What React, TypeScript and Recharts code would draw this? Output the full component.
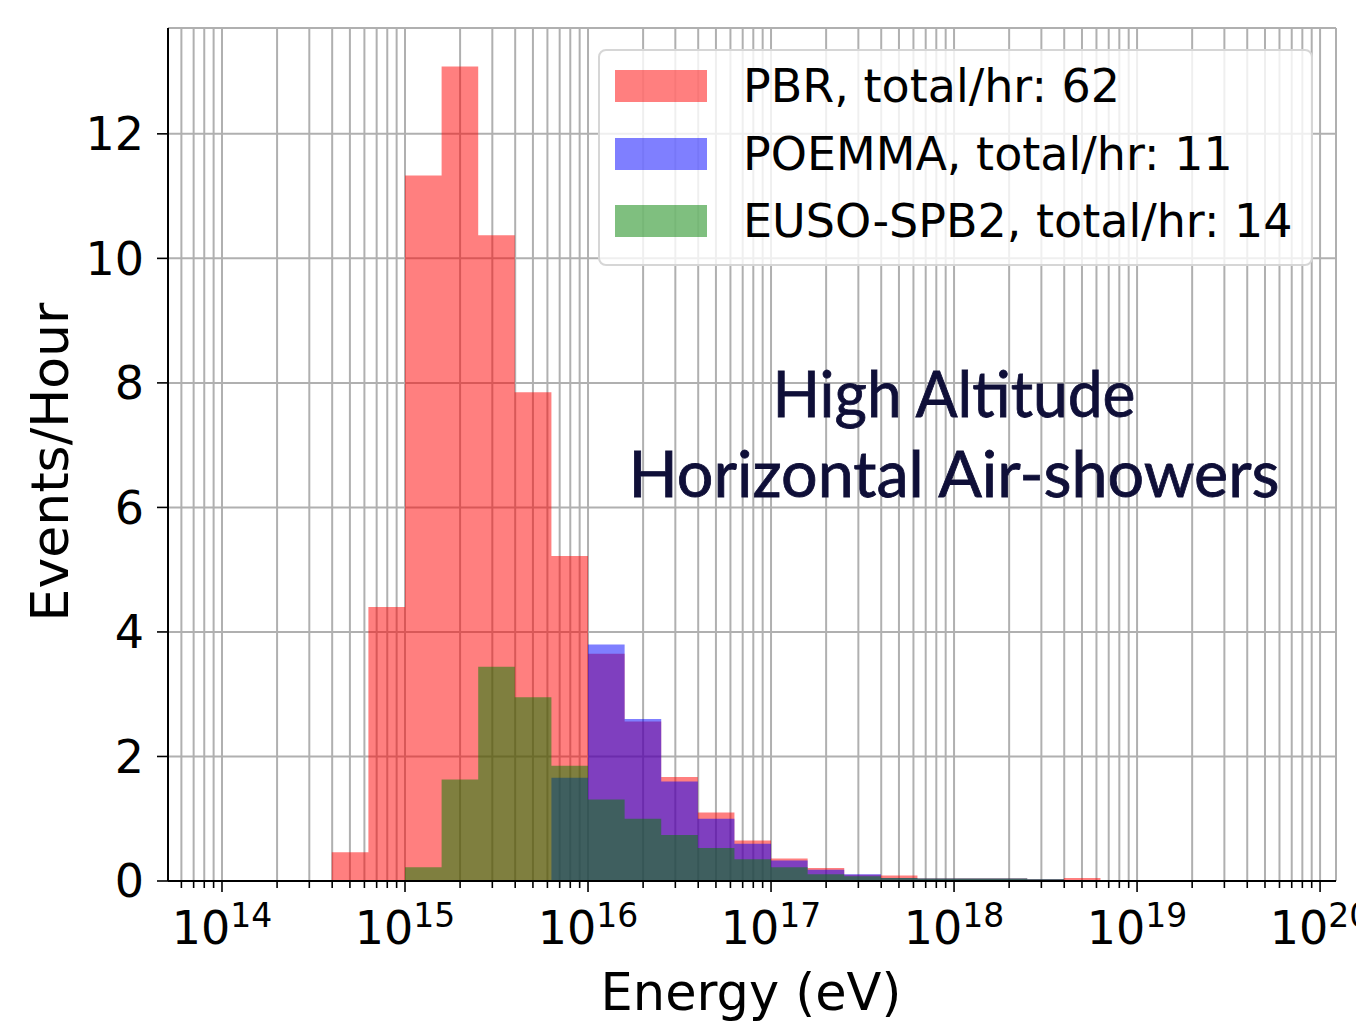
import React from "react";
import {
  ComposedChart,
  Area,
  XAxis,
  YAxis,
  CartesianGrid,
  Legend,
} from "recharts";

// left bin edges in log10(E / eV), bins are 0.2 decades wide (last entry closes the last bin)
const binEdges = [
  14.6, 14.8, 15.0, 15.2, 15.4, 15.6, 15.8, 16.0, 16.2, 16.4, 16.6, 16.8,
  17.0, 17.2, 17.4, 17.6, 17.8, 18.0, 18.2, 18.4, 18.6, 18.8,
];

// events / hour per bin
const pbr = [
  0.46, 4.4, 11.33, 13.08, 10.37, 7.85, 5.22, 3.65, 2.56, 1.67, 1.1, 0.65,
  0.36, 0.21, 0.1, 0.09, 0.04, 0.04, 0.04, 0.03, 0.05,
];
const poemma = [
  0, 0, 0, 0, 0, 0, 1.66, 3.8, 2.6, 1.6, 1.0, 0.6, 0.33, 0.18, 0.11, 0.05,
  0.04, 0.04, 0.04, 0.03, 0,
];
const eusoSpb2 = [
  0, 0, 0.22, 1.63, 3.44, 2.95, 1.85, 1.31, 1.0, 0.74, 0.53, 0.35, 0.22, 0.11,
  0.075, 0.05, 0.04, 0.04, 0.04, 0.03, 0,
];

const decades = [14, 15, 16, 17, 18, 19, 20];
const yTicks = [0, 2, 4, 6, 8, 10, 12];

const SERIES = [
  { key: "pbr", name: "PBR, total/hr: 62", color: "#ff0000" },
  { key: "poemma", name: "POEMMA, total/hr: 11", color: "#0000ff" },
  { key: "euso", name: "EUSO-SPB2, total/hr: 14", color: "#008000" },
];

const X_DOMAIN = [13.705, 20.087];
const FONT = "'DejaVu Sans', sans-serif";
const NAVY = "#0f0f38";

const data = binEdges.map((e, i) => ({
  e,
  pbr: pbr[i] ?? 0,
  poemma: poemma[i] ?? 0,
  euso: eusoSpb2[i] ?? 0,
}));

// major + minor log ticks inside the visible range
const xTicks: number[] = [];
for (let n = 13; n <= 20; n++) {
  for (let k = 1; k <= 9; k++) {
    const v = n + Math.log10(k);
    if (v >= X_DOMAIN[0] && v <= X_DOMAIN[1]) xTicks.push(v);
  }
}

function XTick(props: any) {
  const { x, y, payload } = props;
  const v = payload.value;
  const major = Math.abs(v - Math.round(v)) < 1e-6;
  return (
    <g>
      <line
        x1={x}
        x2={x}
        y1={y}
        y2={y + (major ? 11 : 7)}
        stroke="#000"
        strokeWidth={1.6}
      />
      {major && decades.includes(Math.round(v)) && (
        <text
          x={x}
          y={y + 63}
          textAnchor="middle"
          fontSize={46}
          fontFamily={FONT}
          fill="#000"
        >
          10
          <tspan dy={-17} fontSize={33}>
            {Math.round(v)}
          </tspan>
        </text>
      )}
    </g>
  );
}

const renderLegend = () => (
  <div
    style={{
      boxSizing: "border-box",
      width: 715,
      height: 217,
      border: "2px solid #d6d6d6",
      borderRadius: 8,
      background: "rgba(255,255,255,0.8)",
      position: "relative",
    }}
  >
    {SERIES.map((s, i) => (
      <div
        key={s.key}
        style={{
          position: "absolute",
          left: 15,
          top: 19 + i * 67.5,
          height: 32,
          display: "flex",
          alignItems: "center",
        }}
      >
        <span
          style={{
            display: "inline-block",
            width: 92,
            height: 32,
            background: s.color,
            opacity: 0.5,
          }}
        />
        <span
          style={{
            marginLeft: 36,
            fontSize: 46,
            fontFamily: FONT,
            lineHeight: "32px",
            color: "#000",
            whiteSpace: "nowrap",
          }}
        >
          {s.name}
        </span>
      </div>
    ))}
  </div>
);

export default function App() {
  return (
    <div
      style={{
        position: "absolute",
        left: 0,
        top: 0,
        width: 1356,
        height: 1030,
        background: "#fff",
        overflow: "hidden",
      }}
    >
      <ComposedChart
        width={1356}
        height={1030}
        data={data}
        margin={{ top: 28, right: 20, left: 0, bottom: 0 }}
      >
        <XAxis
          dataKey="e"
          type="number"
          domain={X_DOMAIN}
          allowDataOverflow
          ticks={xTicks}
          interval={0}
          tick={XTick}
          tickLine={false}
          tickSize={0}
          tickMargin={0}
          height={149}
          axisLine={{ stroke: "#000", strokeWidth: 2 }}
        />
        <XAxis
          xAxisId="top"
          orientation="top"
          type="number"
          domain={X_DOMAIN}
          height={0}
          tick={false}
          tickLine={false}
          axisLine={{ stroke: "#000", strokeWidth: 2 }}
        />
        <YAxis
          type="number"
          domain={[0, 13.7]}
          allowDataOverflow
          ticks={yTicks}
          interval={0}
          width={168}
          tickSize={11}
          tickMargin={13}
          tick={{ fill: "#000", fontSize: 46, fontFamily: FONT }}
          tickLine={{ stroke: "#000", strokeWidth: 1.6 }}
          axisLine={{ stroke: "#000", strokeWidth: 2 }}
        />
        <YAxis
          yAxisId="right"
          orientation="right"
          type="number"
          domain={[0, 1]}
          width={0}
          tick={false}
          tickLine={false}
          axisLine={{ stroke: "#000", strokeWidth: 2 }}
        />

        {SERIES.map((s) => (
          <Area
            key={s.key}
            type="stepAfter"
            dataKey={s.key}
            name={s.name}
            fill={s.color}
            fillOpacity={0.5}
            stroke="none"
            dot={false}
            activeDot={false}
            isAnimationActive={false}
          />
        ))}

        <CartesianGrid stroke="#b0b0b0" strokeWidth={2} />

        <Legend
          layout="vertical"
          align="center"
          verticalAlign="middle"
          content={renderLegend}
          wrapperStyle={{ left: 598, top: 49, width: 715, height: 217 }}
        />
      </ComposedChart>

      {/* axis titles and the annotation */}
      <svg
        width={1356}
        height={1030}
        style={{ position: "absolute", left: 0, top: 0, pointerEvents: "none" }}
      >
        <text
          x={751}
          y={1010}
          textAnchor="middle"
          fontSize={51}
          fontFamily={FONT}
          fill="#000"
        >
          Energy (eV)
        </text>
        <text
          transform="translate(68,462) rotate(-90)"
          textAnchor="middle"
          fontSize={52}
          fontFamily={FONT}
          fill="#000"
        >
          Events/Hour
        </text>
        <text
          x={954}
          y={417}
          textAnchor="middle"
          fontSize={64}
          fontFamily="Lato, sans-serif"
          fill={NAVY}
          stroke={NAVY}
          strokeWidth={0.8}
          textLength={363}
          lengthAdjust="spacingAndGlyphs"
        >
          High Altitude
        </text>
        <text
          x={954}
          y={497}
          textAnchor="middle"
          fontSize={64}
          fontFamily="Lato, sans-serif"
          fill={NAVY}
          stroke={NAVY}
          strokeWidth={0.8}
          textLength={651}
          lengthAdjust="spacingAndGlyphs"
        >
          Horizontal Air-showers
        </text>
      </svg>
    </div>
  );
}
